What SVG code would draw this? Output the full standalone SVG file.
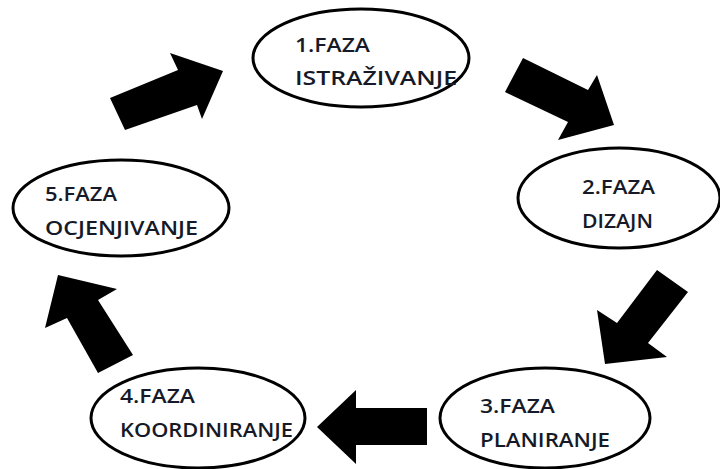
<svg xmlns="http://www.w3.org/2000/svg" width="720" height="469" viewBox="0 0 720 469">
  <style>
    .node ellipse { fill: #ffffff; stroke: #000000; stroke-width: 3; }
    .node text { font-family: "Open Sans", "Liberation Sans", Arial, sans-serif; font-size: 19.5px; font-weight: 600; fill: #161a28; }
    .arrow { fill: #000000; stroke: none; }
  </style>
  <rect x="0" y="0" width="720" height="469" fill="#ffffff"/>
  <g id="connectors">
    <polygon class="arrow" points="125,130 110,98 178,70 170,53 223,71 202,119 197,105"/>
    <polygon class="arrow" points="523,58 505,92 568,122 558,140 614,125 597,75 588,90"/>
    <polygon class="arrow" points="657,270 688,292 648,343 667,357 605,364 597,310 617,323"/>
    <polygon class="arrow" points="427,408 427,445 356,445 356,464 317,427 356,390 356,408"/>
    <polygon class="arrow" points="133,355 98,373 67,318 45,328 58,275 117,289 98,300"/>
  </g>
  <g id="node1" class="node">
    <ellipse cx="361" cy="58" rx="108" ry="49"/>
    <text transform="translate(295,52) scale(1.25,1)" textLength="60" lengthAdjust="spacingAndGlyphs">1.FAZA</text>
    <text transform="translate(295,85) scale(1.25,1)" textLength="129.6" lengthAdjust="spacingAndGlyphs">ISTRAŽIVANJE</text>
  </g>
  <g id="node2" class="node">
    <ellipse cx="619" cy="198" rx="101" ry="50"/>
    <text transform="translate(582,194) scale(1.25,1)" textLength="58.4" lengthAdjust="spacingAndGlyphs">2.FAZA</text>
    <text transform="translate(582,228) scale(1.25,1)" textLength="56.8" lengthAdjust="spacingAndGlyphs">DIZAJN</text>
  </g>
  <g id="node3" class="node">
    <ellipse cx="545" cy="418" rx="105" ry="50"/>
    <text transform="translate(480,413) scale(1.25,1)" textLength="60" lengthAdjust="spacingAndGlyphs">3.FAZA</text>
    <text transform="translate(480,447) scale(1.25,1)" textLength="104" lengthAdjust="spacingAndGlyphs">PLANIRANJE</text>
  </g>
  <g id="node4" class="node">
    <ellipse cx="198" cy="418" rx="107" ry="50"/>
    <text transform="translate(120,403) scale(1.25,1)" textLength="60" lengthAdjust="spacingAndGlyphs">4.FAZA</text>
    <text transform="translate(120,437) scale(1.25,1)" textLength="138.4" lengthAdjust="spacingAndGlyphs">KOORDINIRANJE</text>
  </g>
  <g id="node5" class="node">
    <ellipse cx="121" cy="208" rx="108" ry="48"/>
    <text transform="translate(45,201) scale(1.25,1)" textLength="57.6" lengthAdjust="spacingAndGlyphs">5.FAZA</text>
    <text transform="translate(45,235) scale(1.25,1)" textLength="122.4" lengthAdjust="spacingAndGlyphs">OCJENJIVANJE</text>
  </g>
</svg>
